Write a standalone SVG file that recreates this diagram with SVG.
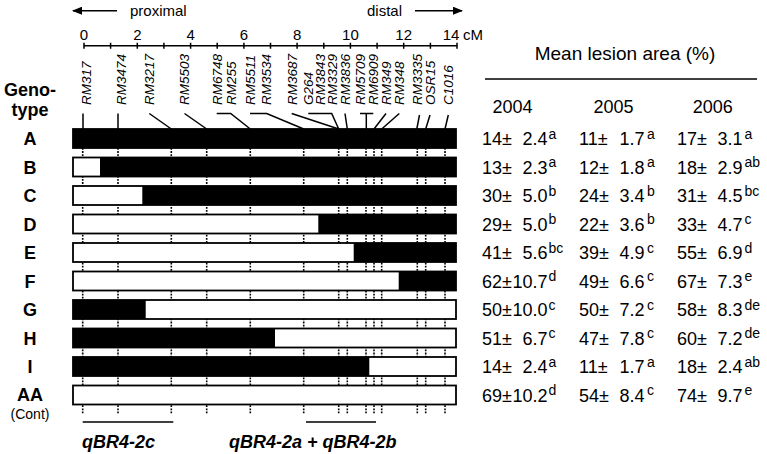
<svg xmlns="http://www.w3.org/2000/svg" width="767" height="454" viewBox="0 0 767 454">
<style>
text{font-family:"Liberation Sans",Arial,sans-serif;fill:#000}
.ax{font-size:15px}
.mk{font-size:13.5px;font-style:italic}
.rl{font-size:18px;font-weight:bold;text-anchor:middle}
.v{font-size:18px}
.e{font-size:18px;text-anchor:end}
.s{font-size:14px}
.q{font-size:18px;font-weight:bold;font-style:italic}
.ln{stroke:#000;stroke-width:1.5;fill:none}
.dot{stroke:#000;stroke-width:1.6;stroke-dasharray:1.8 1.3;fill:none}
.bw{fill:#fff;stroke:#000;stroke-width:1.8}
.bb{fill:#000}
</style>
<defs>
<marker id="ah" viewBox="0 0 10 8" refX="9" refY="4" markerWidth="10" markerHeight="8" markerUnits="userSpaceOnUse" orient="auto"><path d="M0 0L10 4L0 8z" fill="#000"/></marker>
</defs>
<g id="axis">
<line class="ln" x1="117" y1="10.7" x2="73" y2="10.7" marker-end="url(#ah)"/>
<text class="ax" x="130" y="16">proximal</text>
<text class="ax" x="367" y="16">distal</text>
<line class="ln" x1="415" y1="10.7" x2="462" y2="10.7" marker-end="url(#ah)"/>
<g text-anchor="middle" class="ax">
<text x="84" y="39.5">0</text><text x="137.3" y="39.5">2</text><text x="190.6" y="39.5">4</text><text x="243.9" y="39.5">6</text><text x="297.1" y="39.5">8</text><text x="350.4" y="39.5">10</text><text x="403.7" y="39.5">12</text><text x="451" y="39.5">14</text>
</g>
<text class="ax" x="463" y="39.5">cM</text>
<path class="ln" stroke-width="2" d="M84 45.7H457M84 42.7V48.7M110.6 42.7V48.7M137.3 42.7V48.7M163.9 42.7V48.7M190.6 42.7V48.7M217.2 42.7V48.7M243.9 42.7V48.7M270.5 42.7V48.7M297.1 42.7V48.7M323.8 42.7V48.7M350.4 42.7V48.7M377.1 42.7V48.7M403.7 42.7V48.7M430.4 42.7V48.7M457 42.7V48.7"/>
</g>
<g id="marker-labels" class="mk">
<text transform="translate(90.8,105) rotate(-90)">RM317</text>
<text transform="translate(125.5,105) rotate(-90)">RM3474</text>
<text transform="translate(154.1,105) rotate(-90)">RM3217</text>
<text transform="translate(188.8,105) rotate(-90)">RM5503</text>
<text transform="translate(221.5,105) rotate(-90)">RM6748</text>
<text transform="translate(235.5,105) rotate(-90)">RM255</text>
<text transform="translate(254.8,105) rotate(-90)">RM5511</text>
<text transform="translate(270.8,105) rotate(-90)">RM3534</text>
<text transform="translate(296.5,105) rotate(-90)">RM3687</text>
<text transform="translate(313.1,105) rotate(-90)">G264</text>
<text transform="translate(324.8,105) rotate(-90)">RM3843</text>
<text transform="translate(336.5,105) rotate(-90)">RM3329</text>
<text transform="translate(349.8,105) rotate(-90)">RM3836</text>
<text transform="translate(364.8,105) rotate(-90)">RM5709</text>
<text transform="translate(378.1,105) rotate(-90)">RM6909</text>
<text transform="translate(390.8,105) rotate(-90)">RM349</text>
<text transform="translate(404.1,105) rotate(-90)">RM348</text>
<text transform="translate(421.5,105) rotate(-90)">RM3335</text>
<text transform="translate(434.8,105) rotate(-90)">OSR15</text>
<text transform="translate(453.1,105) rotate(-90)">C1016</text>
</g>
<g id="connectors">
<path class="ln" d="M83 113.5V129M118 113.5V129M149.3 113.5L171.3 129M184.5 113.5L206.7 129M216.7 113.5H230.7L250.3 129M250 113.5H266.7L303.7 129M291.7 113.5L338.7 129M308.3 113.5H331.7L338.7 129M345 113.5L347.3 129M360 113.5H373.3M366.3 113.5V129M386 113.5L374 129M399.3 113.5L381.7 129M419.5 115L416.8 129M430 115L425.7 129M448.3 115L445 129"/>
<path class="dot" d="M82.7 148V414M118 148V414M171.3 148V414M206.7 148V414M250.3 148V414M303.7 148V414M338.7 148V414M347.3 148V414M366 148V414M374 148V414M381.7 148V414M417.3 148V414M425.7 148V414M445 148V414"/>
</g>
<g id="row-labels">
<text class="rl" x="30" y="96" font-size="17">Geno-</text>
<text class="rl" x="30" y="116" font-size="17">type</text>
</g>
<g id="row-A"><rect class="bw" x="73" y="129" width="383" height="19"/><rect class="bb" x="73" y="129" width="383" height="19"/><text class="rl" x="30" y="145">A</text></g>
<g id="row-B"><rect class="bw" x="73" y="157.5" width="383" height="19"/><rect class="bb" x="100" y="157.5" width="356" height="19"/><text class="rl" x="30" y="173.5">B</text></g>
<g id="row-C"><rect class="bw" x="73" y="186" width="383" height="19"/><rect class="bb" x="142.3" y="186" width="313.7" height="19"/><text class="rl" x="30" y="202">C</text></g>
<g id="row-D"><rect class="bw" x="73" y="214.5" width="383" height="19"/><rect class="bb" x="318.3" y="214.5" width="137.7" height="19"/><text class="rl" x="30" y="230.5">D</text></g>
<g id="row-E"><rect class="bw" x="73" y="243" width="383" height="19"/><rect class="bb" x="353.7" y="243" width="102.3" height="19"/><text class="rl" x="30" y="259">E</text></g>
<g id="row-F"><rect class="bw" x="73" y="271.5" width="383" height="19"/><rect class="bb" x="398.7" y="271.5" width="57.3" height="19"/><text class="rl" x="30" y="287.5">F</text></g>
<g id="row-G"><rect class="bw" x="73" y="300" width="383" height="19"/><rect class="bb" x="73" y="300" width="72.7" height="19"/><text class="rl" x="30" y="316">G</text></g>
<g id="row-H"><rect class="bw" x="73" y="328.5" width="383" height="19"/><rect class="bb" x="73" y="328.5" width="202" height="19"/><text class="rl" x="30" y="344.5">H</text></g>
<g id="row-I"><rect class="bw" x="73" y="357" width="383" height="19"/><rect class="bb" x="73" y="357" width="296.3" height="19"/><text class="rl" x="30" y="373">I</text></g>
<g id="row-AA"><rect class="bw" x="73" y="385.5" width="383" height="19"/><text class="rl" x="30" y="400.5">AA</text><text x="30" y="419" font-size="14" text-anchor="middle">(Cont)</text></g>
<g id="qtl">
<path class="ln" stroke-width="2" d="M82.7 422H173.3M306 422H376"/>
<text class="q" x="82" y="448">qBR4-2c</text>
<text class="q" x="229" y="448">qBR4-2a + qBR4-2b</text>
</g>
<g id="table">
<text x="625" y="60" font-size="19" text-anchor="middle">Mean lesion area (%)</text>
<line class="ln" x1="485" y1="79" x2="757" y2="79"/>
<g class="v" text-anchor="middle"><text x="512.5" y="113">2004</text><text x="613.5" y="113">2005</text><text x="712.8" y="113">2006</text></g>
<g class="v">
<text x="482" y="145">14±</text><text x="579" y="145">11±</text><text x="677" y="145">17±</text>
<text x="482" y="173.5">13±</text><text x="579" y="173.5">12±</text><text x="677" y="173.5">18±</text>
<text x="482" y="202">30±</text><text x="579" y="202">24±</text><text x="677" y="202">31±</text>
<text x="482" y="230.5">29±</text><text x="579" y="230.5">22±</text><text x="677" y="230.5">33±</text>
<text x="482" y="259">41±</text><text x="579" y="259">39±</text><text x="677" y="259">55±</text>
<text x="482" y="287.5">62±</text><text x="579" y="287.5">49±</text><text x="677" y="287.5">67±</text>
<text x="482" y="316">50±</text><text x="579" y="316">50±</text><text x="677" y="316">58±</text>
<text x="482" y="344.5">51±</text><text x="579" y="344.5">47±</text><text x="677" y="344.5">60±</text>
<text x="482" y="373">14±</text><text x="579" y="373">11±</text><text x="677" y="373">18±</text>
<text x="482" y="401.5">69±</text><text x="579" y="401.5">54±</text><text x="677" y="401.5">74±</text>
</g>
<g class="e">
<text x="547.5" y="145">2.4</text><text x="644.5" y="145">1.7</text><text x="742.5" y="145">3.1</text>
<text x="547.5" y="173.5">2.3</text><text x="644.5" y="173.5">1.8</text><text x="742.5" y="173.5">2.9</text>
<text x="547.5" y="202">5.0</text><text x="644.5" y="202">3.4</text><text x="742.5" y="202">4.5</text>
<text x="547.5" y="230.5">5.0</text><text x="644.5" y="230.5">3.6</text><text x="742.5" y="230.5">4.7</text>
<text x="547.5" y="259">5.6</text><text x="644.5" y="259">4.9</text><text x="742.5" y="259">6.9</text>
<text x="547.5" y="287.5">10.7</text><text x="644.5" y="287.5">6.6</text><text x="742.5" y="287.5">7.3</text>
<text x="547.5" y="316">10.0</text><text x="644.5" y="316">7.2</text><text x="742.5" y="316">8.3</text>
<text x="547.5" y="344.5">6.7</text><text x="644.5" y="344.5">7.8</text><text x="742.5" y="344.5">7.2</text>
<text x="547.5" y="373">2.4</text><text x="644.5" y="373">1.7</text><text x="742.5" y="373">2.4</text>
<text x="547.5" y="401.5">10.2</text><text x="644.5" y="401.5">8.4</text><text x="742.5" y="401.5">9.7</text>
</g>
<g class="s">
<text x="548.5" y="138.5">a</text><text x="647" y="138.5">a</text><text x="744.5" y="138.5">a</text>
<text x="548.5" y="167">a</text><text x="647" y="167">a</text><text x="744.5" y="167">ab</text>
<text x="548.5" y="195.5">b</text><text x="647" y="195.5">b</text><text x="744.5" y="195.5">bc</text>
<text x="548.5" y="224">b</text><text x="647" y="224">b</text><text x="744.5" y="224">c</text>
<text x="548.5" y="252.5">bc</text><text x="647" y="252.5">c</text><text x="744.5" y="252.5">d</text>
<text x="548.5" y="281">d</text><text x="647" y="281">c</text><text x="744.5" y="281">e</text>
<text x="548.5" y="309.5">c</text><text x="647" y="309.5">c</text><text x="744.5" y="309.5">de</text>
<text x="548.5" y="338">c</text><text x="647" y="338">c</text><text x="744.5" y="338">de</text>
<text x="548.5" y="366.5">a</text><text x="647" y="366.5">a</text><text x="744.5" y="366.5">ab</text>
<text x="548.5" y="395">d</text><text x="647" y="395">c</text><text x="744.5" y="395">e</text>
</g>
</g>
</svg>
